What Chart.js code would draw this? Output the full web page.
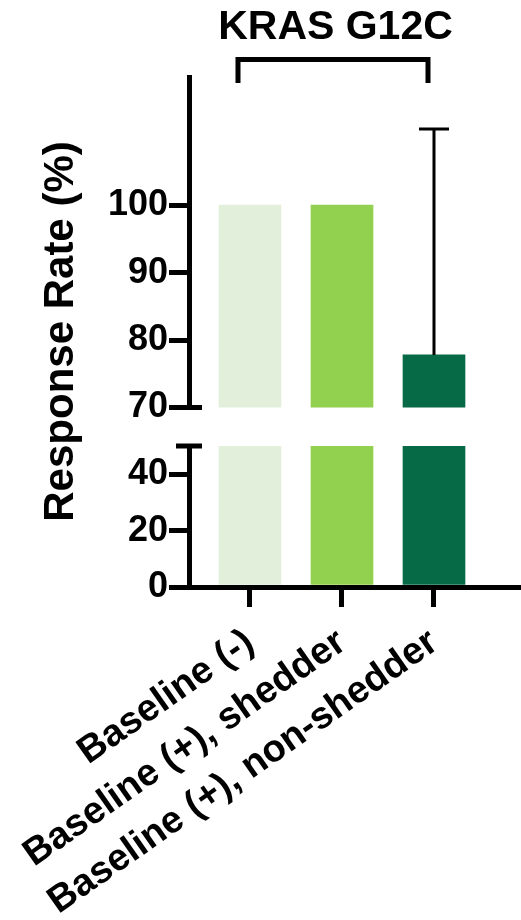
<!DOCTYPE html>
<html>
<head>
<meta charset="utf-8">
<script src="https://cdn.jsdelivr.net/npm/chart.js@4.4.1/dist/chart.umd.min.js"></script>
<style>
  html, body { margin: 0; padding: 0; background: #fff; }
  #wrap { position: relative; width: 521px; height: 920px; }
  #wrap canvas { position: absolute; left: 0; top: 0; }
</style>
</head>
<body>
<div id="wrap">
  <canvas id="upper" width="521" height="920"></canvas>
  <canvas id="lower" width="521" height="920"></canvas>
</div>
<script>
// ---- data ----
const categories = ['Baseline (-)', 'Baseline (+), shedder', 'Baseline (+), non-shedder'];
const responseRate = [100, 100, 77.8];
const errorUpper = [null, null, 111.3];
const barColors = ['#E2EFDA', '#92D050', '#076A46'];
const upperTicks = [70, 80, 90, 100];
const lowerTicks = [0, 20, 40];
const chartTitle = 'KRAS G12C';
const yTitle = 'Response Rate (%)';

const FONT = '"Liberation Sans", Arial, sans-serif';
const positions = categories.map((c, i) => i);
const points = categories.map((c, i) => ({ x: i, y: responseRate[i] }));

const X_MIN = -0.663;

function barDataset() {
  return {
    data: points,
    backgroundColor: barColors,
    borderWidth: 0,
    barThickness: 62,
    clip: 0
  };
}

function yScale(min, max, ticksArr) {
  return {
    type: 'linear',
    min: min,
    max: max,
    afterBuildTicks: s => { s.ticks = ticksArr.map(v => ({ value: v })); },
    afterFit: s => { s.width = 189; },
    border: { display: true, color: '#000', width: 5 },
    grid: { drawOnChartArea: false, drawTicks: true, tickLength: 20, lineWidth: 5, color: '#000' },
    ticks: { color: '#000', padding: 1, font: { family: FONT, size: 36, weight: 'bold' } }
  };
}

const errorBarPlugin = {
  id: 'errorBars',
  afterDatasetsDraw(chart) {
    const { ctx } = chart;
    const xs = chart.scales.x, ys = chart.scales.y;
    ctx.save();
    ctx.strokeStyle = '#000';
    ctx.lineWidth = 3;
    errorUpper.forEach((e, i) => {
      if (e == null) return;
      const x = xs.getPixelForValue(i);
      const yT = ys.getPixelForValue(e);
      const yB = ys.getPixelForValue(responseRate[i]);
      ctx.beginPath();
      ctx.moveTo(x, yB); ctx.lineTo(x, yT);
      ctx.moveTo(x - 15, yT); ctx.lineTo(x + 15, yT);
      ctx.stroke();
    });
    ctx.restore();
  }
};

const upperDecor = {
  id: 'upperDecor',
  afterDraw(chart) {
    const { ctx, chartArea } = chart;
    const xs = chart.scales.x;
    ctx.save();
    ctx.strokeStyle = '#000';
    ctx.lineWidth = 5;
    ctx.lineJoin = 'miter';
    // bracket under the title
    const x0 = xs.getPixelForValue(0) - 12;
    const x1 = xs.getPixelForValue(2) - 6;
    ctx.beginPath();
    ctx.moveTo(x0, 83); ctx.lineTo(x0, 59.5); ctx.lineTo(x1, 59.5); ctx.lineTo(x1, 83);
    ctx.stroke();
    // axis break marker
    ctx.beginPath();
    ctx.moveTo(chartArea.left, chartArea.bottom);
    ctx.lineTo(chartArea.left + 13, chartArea.bottom);
    ctx.stroke();
    // y axis title spanning both segments
    ctx.translate(73, 331.5);
    ctx.rotate(-Math.PI / 2);
    ctx.fillStyle = '#000';
    ctx.font = 'bold 42px ' + FONT;
    ctx.textAlign = 'center';
    ctx.textBaseline = 'alphabetic';
    ctx.fillText(yTitle, 0, 0);
    ctx.restore();
  }
};

const lowerDecor = {
  id: 'lowerDecor',
  afterDraw(chart) {
    const { ctx, chartArea } = chart;
    ctx.save();
    ctx.strokeStyle = '#000';
    ctx.lineWidth = 5;
    ctx.beginPath();
    ctx.moveTo(chartArea.left - 13, chartArea.top);
    ctx.lineTo(chartArea.left + 13, chartArea.top);
    ctx.stroke();
    ctx.restore();
  }
};

new Chart(document.getElementById('upper'), {
  type: 'bar',
  data: { datasets: [barDataset()] },
  options: {
    responsive: false,
    animation: false,
    devicePixelRatio: 1,
    layout: { padding: { top: 0, left: 0, right: 39, bottom: 512.5 } },
    plugins: {
      legend: { display: false },
      tooltip: { enabled: false },
      title: {
        display: true,
        text: chartTitle,
        fullSize: false,
        color: '#000',
        font: { family: FONT, size: 41, weight: 'bold' },
        padding: { top: 3, bottom: 24.8 }
      }
    },
    scales: {
      x: { type: 'linear', display: false, offset: false, grid: { offset: false },
           min: X_MIN, max: X_MIN + 293 / 92 },
      y: yScale(70, 119, upperTicks)
    }
  },
  plugins: [errorBarPlugin, upperDecor]
});

new Chart(document.getElementById('lower'), {
  type: 'bar',
  data: { datasets: [barDataset()] },
  options: {
    responsive: false,
    animation: false,
    devicePixelRatio: 1,
    layout: { padding: { top: 446, left: 0, right: 0, bottom: 0 } },
    plugins: { legend: { display: false }, tooltip: { enabled: false } },
    scales: {
      x: {
        type: 'linear',
        position: 'bottom',
        offset: false,
        min: X_MIN,
        max: X_MIN + 332 / 92,
        afterBuildTicks: s => { s.ticks = positions.map(v => ({ value: v })); },
        afterFit: s => { s.height = 333; },
        border: { display: true, color: '#000', width: 5 },
        grid: { offset: false, drawOnChartArea: false, drawTicks: true, tickLength: 20, lineWidth: 5, color: '#000' },
        ticks: {
          color: '#000',
          autoSkip: false,
          minRotation: 35,
          maxRotation: 35,
          padding: 13,
          font: { family: FONT, size: 38, weight: 'bold' },
          callback: v => categories[v]
        }
      },
      y: yScale(0, 50, lowerTicks)
    }
  },
  plugins: [lowerDecor]
});
</script>
</body>
</html>
